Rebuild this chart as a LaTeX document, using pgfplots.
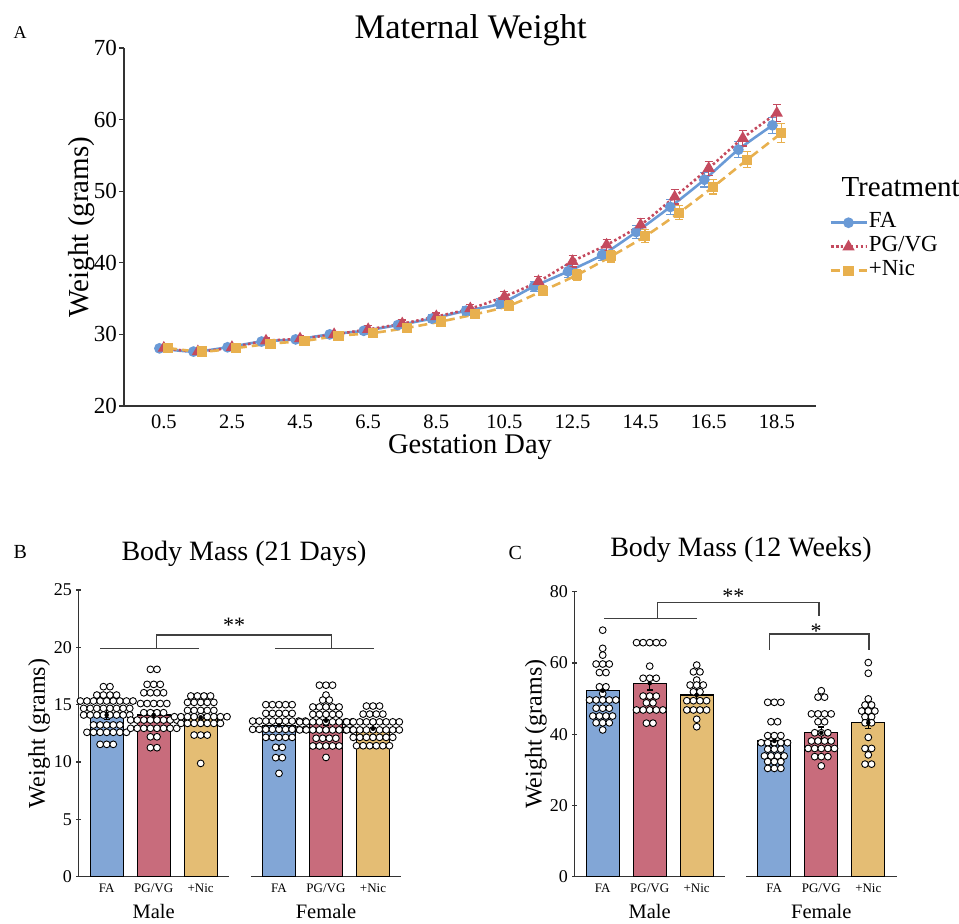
\documentclass[border=0pt]{standalone}
\usepackage{pgfplots}
\pgfplotsset{compat=1.18}
\usepackage{fontspec}
\setmainfont{Liberation Serif}
\newcommand\fs[1]{\fontsize{#1}{#1}\selectfont}
\definecolor{faBar}{HTML}{82A6D6}
\definecolor{pgBar}{HTML}{C86C7C}
\definecolor{nicBar}{HTML}{E4BD74}
\definecolor{faLine}{HTML}{6A9AD6}
\definecolor{pgLine}{HTML}{C44A5E}
\definecolor{nicLine}{HTML}{E8B04E}
\pgfplotsset{
  facet/.style={scale only axis, width=150.4pt, xmin=0.4, xmax=3.6, ymin=0, clip=false,
    xtick={1,2,3}, xticklabels={FA,PG/VG,+Nic}, xtick style={draw=none},
    xticklabel style={font=\fs{13}, yshift=-1.5pt},
    ytick style={line width=1.2pt, black!80}, tick align=outside, major tick length=5pt,
    yticklabel style={font=\fs{18}, inner sep=1pt, xshift=-3pt},
    /pgf/number format/assume math mode=true,
    xlabel style={font=\fs{20.5}, at={([yshift=-42pt]rel axis cs:0.5,0)}, anchor=base},
    ylabel style={font=\fs{24}, anchor=base}},
  facetlines/.style={axis line style={-, line width=1.6pt, black!80},
    x axis line style={-}, y axis line style={-}},
  bars/.style={ybar, bar width=0.7, draw=black, line width=1.2pt},
  dots/.style={only marks, mark=*, mark size=3.4pt, mark options={fill=white, draw=black, line width=0.9pt}},
  sem/.style={black, only marks, mark=none, error bars/.cd, y dir=both, y explicit,
    error bar style={line width=1.2pt}, error mark options={rotate=90, mark size=3pt, line width=1.2pt}},
}
\begin{document}
\begin{tikzpicture}
\path[use as bounding box] (0,0) rectangle (959pt,924pt);

% ---- A: maternal weight
\begin{axis}[at={(124pt,518pt)}, anchor=south west, scale only axis, width=692pt, height=358pt,
  xmin=-0.67, xmax=19.65, ymin=20, ymax=70, clip=false,
  axis lines=left, axis line style={-, line width=1.6pt, black!80},
  tick align=outside, major tick length=5pt, tick style={line width=1.2pt, black!80},
  xtick style={draw=none},
  xtick={0.5,2.5,4.5,6.5,8.5,10.5,12.5,14.5,16.5,18.5},
  xticklabels={0.5,2.5,4.5,6.5,8.5,10.5,12.5,14.5,16.5,18.5},
  ytick={20,30,40,50,60,70},
  xticklabel style={font=\fs{20.5}},
  yticklabel style={font=\fs{23}, inner sep=1pt, xshift=-1pt},
  /pgf/number format/assume math mode=true,
  xlabel={Gestation Day}, ylabel={Weight (grams)},
  xlabel style={font=\fs{28.5}, at={([yshift=-48pt]rel axis cs:0.5,0)}, anchor=base},
  ylabel style={font=\fs{29}, at={([xshift=-35.7pt]rel axis cs:0,0.5)}, anchor=base},
  legend style={at={(1.0188,0.546)}, anchor=north west, draw=none, fill=none, inner sep=0pt,
    font=\fs{23}, nodes={inner sep=1pt, text height=16pt, text depth=6pt}},
  legend cell align=left,
  legend image code/.code={\draw[mark repeat=2,mark phase=2,#1] plot coordinates {(0pt,0pt) (18pt,0pt) (36pt,0pt)};},
]
\addplot[faLine, line width=2.6pt, smooth, mark=*, mark size=4pt, mark options={solid, fill=faLine},
  error bars/.cd, y dir=both, y explicit, error bar style={line width=1.2pt, solid},
  error mark options={rotate=90, mark size=4pt, line width=1.2pt, solid}]
  table[x=x, y=y, y error=e] {
x y e
0.37 28.05 0.3
1.37 27.6 0.3
2.37 28.2 0.3
3.37 29.0 0.4
4.37 29.3 0.4
5.37 30.0 0.4
6.37 30.5 0.5
7.37 31.3 0.5
8.37 32.2 0.5
9.37 33.3 0.6
10.37 34.3 0.7
11.37 36.7 0.7
12.37 38.8 0.8
13.37 41.1 0.8
14.37 44.3 0.9
15.37 47.8 1.0
16.37 51.6 1.0
17.37 55.8 1.1
18.37 59.2 1.1
};
\addlegendentry{FA}
\addplot[pgLine, line width=2.6pt, smooth, dash pattern=on 2.5pt off 2.5pt, mark=triangle*, mark size=4.5pt, mark options={solid, fill=pgLine},
  error bars/.cd, y dir=both, y explicit, error bar style={line width=1.2pt, solid},
  error mark options={rotate=90, mark size=4pt, line width=1.2pt, solid}]
  table[x=x, y=y, y error=e] {
x y e
0.5 28.1 0.3
1.5 27.6 0.3
2.5 28.2 0.3
3.5 29.1 0.4
4.5 29.4 0.4
5.5 30.0 0.4
6.5 30.7 0.5
7.5 31.5 0.5
8.5 32.5 0.5
9.5 33.6 0.6
10.5 35.3 0.7
11.5 37.4 0.7
12.5 40.2 0.8
13.5 42.5 0.8
14.5 45.3 0.9
15.5 49.2 1.0
16.5 53.2 1.0
17.5 57.4 1.1
18.5 60.9 1.2
};
\addlegendentry{PG/VG}
\addplot[nicLine, line width=2.6pt, smooth, dash pattern=on 9pt off 5pt, mark=square*, mark size=3.8pt, mark options={solid, fill=nicLine},
  error bars/.cd, y dir=both, y explicit, error bar style={line width=1.2pt, solid},
  error mark options={rotate=90, mark size=4pt, line width=1.2pt, solid}]
  table[x=x, y=y, y error=e] {
x y e
0.63 28.1 0.3
1.63 27.6 0.3
2.63 28.1 0.3
3.63 28.7 0.4
4.63 29.1 0.4
5.63 29.8 0.4
6.63 30.2 0.5
7.63 30.9 0.5
8.63 31.8 0.5
9.63 32.8 0.6
10.63 34.0 0.7
11.63 36.1 0.7
12.63 38.3 0.8
13.63 40.9 0.8
14.63 43.7 0.9
15.63 47.0 1.0
16.63 50.6 1.0
17.63 54.4 1.1
18.63 58.1 1.3
};
\addlegendentry{+Nic}
\end{axis}
\node[font=\fs{18}, anchor=base west] at (10pt,885.7pt) {A};
\node[font=\fs{34.5}, anchor=base] at (470.7pt,885.7pt) {Maternal Weight};
\node[font=\fs{29}, anchor=base west] at (838pt,727.3pt) {Treatment};

% ---- B: body mass 21 days
\begin{axis}[facet, at={(78.5pt,47.3pt)}, anchor=south west, height=286.7pt, ymax=25,
  axis x line=bottom, axis y line=left, facetlines, ytick={0,5,10,15,20,25},
  xlabel={Male}, ylabel={Weight (grams)},
  ylabel style={at={([xshift=-33.5pt]rel axis cs:0,0.5)}}]
\addplot[bars, fill=faBar] coordinates {(1,14.1)};
\addplot[bars, fill=pgBar] coordinates {(2,14.1)};
\addplot[bars, fill=nicBar] coordinates {(3,13.9)};
\addplot[dots] coordinates {
(0.93,16.57)(1.07,16.57)
(0.79,15.84)(0.93,15.84)(1.07,15.84)(1.21,15.84)
(0.44,15.32)(0.58,15.32)(0.72,15.32)(0.86,15.32)(1.00,15.32)(1.14,15.32)(1.28,15.32)(1.42,15.32)(1.56,15.32)
(0.51,14.68)(0.65,14.68)(0.79,14.68)(0.93,14.68)(1.07,14.68)(1.21,14.68)(1.35,14.68)(1.49,14.68)
(0.51,14.10)(0.65,14.10)(0.79,14.10)(0.93,14.10)(1.07,14.10)(1.21,14.10)(1.35,14.10)(1.49,14.10)
(0.72,13.23)(0.86,13.23)(1.00,13.23)(1.14,13.23)(1.28,13.23)
(0.58,12.59)(0.72,12.59)(0.86,12.59)(1.00,12.59)(1.14,12.59)(1.28,12.59)(1.42,12.59)
(0.86,11.54)(1.00,11.54)(1.14,11.54)
(1.93,18.08)(2.07,18.08)
(1.86,16.77)(2.00,16.77)(2.14,16.77)
(1.79,16.04)(1.93,16.04)(2.07,16.04)(2.21,16.04)
(1.72,15.10)(1.86,15.10)(2.00,15.10)(2.14,15.10)(2.28,15.10)
(1.79,14.30)(1.93,14.30)(2.07,14.30)(2.21,14.30)
(1.51,13.66)(1.65,13.66)(1.79,13.66)(1.93,13.66)(2.07,13.66)(2.21,13.66)(2.35,13.66)(2.49,13.66)
(1.51,12.94)(1.65,12.94)(1.79,12.94)(1.93,12.94)(2.07,12.94)(2.21,12.94)(2.35,12.94)(2.49,12.94)
(1.93,12.20)(2.07,12.20)
(1.93,11.25)(2.07,11.25)
(2.79,15.76)(2.93,15.76)(3.07,15.76)(3.21,15.76)
(2.72,15.20)(2.86,15.20)(3.00,15.20)(3.14,15.20)(3.28,15.20)
(2.72,14.50)(2.86,14.50)(3.00,14.50)(3.14,14.50)(3.28,14.50)
(2.44,13.95)(2.58,13.95)(2.72,13.95)(2.86,13.95)(3.00,13.95)(3.14,13.95)(3.28,13.95)(3.42,13.95)(3.56,13.95)
(2.58,13.37)(2.72,13.37)(2.86,13.37)(3.00,13.37)(3.14,13.37)(3.28,13.37)(3.42,13.37)
(2.86,12.35)(3.00,12.35)(3.14,12.35)
(3.00,9.88)
};
\addplot[sem] coordinates {(1,14.1) +- (0,0.4) (2,14.1) +- (0,0.4) (3,13.9) +- (0,0.4)};
\end{axis}
\begin{axis}[facet, at={(250.8pt,47.3pt)}, anchor=south west, height=286.7pt, ymax=25,
  axis x line=bottom, axis y line=none, facetlines, xlabel={Female}]
\addplot[bars, fill=faBar] coordinates {(1,13.2)};
\addplot[bars, fill=pgBar] coordinates {(2,13.6)};
\addplot[bars, fill=nicBar] coordinates {(3,12.9)};
\addplot[dots] coordinates {
(0.72,15.00)(0.86,15.00)(1.00,15.00)(1.14,15.00)(1.28,15.00)
(0.72,14.24)(0.86,14.24)(1.00,14.24)(1.14,14.24)(1.28,14.24)
(0.44,13.57)(0.58,13.57)(0.72,13.57)(0.86,13.57)(1.00,13.57)(1.14,13.57)(1.28,13.57)(1.42,13.57)(1.56,13.57)
(0.44,12.85)(0.58,12.85)(0.72,12.85)(0.86,12.85)(1.00,12.85)(1.14,12.85)(1.28,12.85)(1.42,12.85)(1.56,12.85)
(0.72,12.15)(0.86,12.15)(1.00,12.15)(1.14,12.15)(1.28,12.15)
(0.93,11.28)(1.07,11.28)
(0.93,10.38)(1.07,10.38)
(1.00,9.01)
(1.86,16.70)(2.00,16.70)(2.14,16.70)
(2.00,15.84)
(1.93,15.40)(2.07,15.40)
(1.72,14.80)(1.86,14.80)(2.00,14.80)(2.14,14.80)(2.28,14.80)
(1.72,14.16)(1.86,14.16)(2.00,14.16)(2.14,14.16)(2.28,14.16)
(1.44,13.50)(1.58,13.50)(1.72,13.50)(1.86,13.50)(2.00,13.50)(2.14,13.50)(2.28,13.50)(2.42,13.50)(2.56,13.50)
(1.44,12.80)(1.58,12.80)(1.72,12.80)(1.86,12.80)(2.00,12.80)(2.14,12.80)(2.28,12.80)(2.42,12.80)(2.56,12.80)
(1.79,12.07)(1.93,12.07)(2.07,12.07)(2.21,12.07)
(1.72,11.40)(1.86,11.40)(2.00,11.40)(2.14,11.40)(2.28,11.40)
(2.00,10.40)
(2.86,14.88)(3.00,14.88)(3.14,14.88)
(2.79,14.18)(2.93,14.18)(3.07,14.18)(3.21,14.18)
(2.44,13.50)(2.58,13.50)(2.72,13.50)(2.86,13.50)(3.00,13.50)(3.14,13.50)(3.28,13.50)(3.42,13.50)(3.56,13.50)
(2.44,12.80)(2.58,12.80)(2.72,12.80)(2.86,12.80)(3.00,12.80)(3.14,12.80)(3.28,12.80)(3.42,12.80)(3.56,12.80)
(2.58,12.15)(2.72,12.15)(2.86,12.15)(3.00,12.15)(3.14,12.15)(3.28,12.15)(3.42,12.15)
(2.65,11.42)(2.79,11.42)(2.93,11.42)(3.07,11.42)(3.21,11.42)(3.35,11.42)
};
\addplot[sem] coordinates {(1,13.2) +- (0,0.35) (2,13.6) +- (0,0.4) (3,12.9) +- (0,0.35)};
\end{axis}
\node[font=\fs{20}, anchor=base west] at (10pt,365.7pt) {B};
\node[font=\fs{28}, anchor=base] at (244pt,363.3pt) {Body Mass (21 Days)};
\draw[line width=1.4pt, black!75] (100pt,275.7pt) -- (199pt,275.7pt);
\draw[line width=1.4pt, black!75] (275pt,275.7pt) -- (374pt,275.7pt);
\draw[line width=1.4pt, black!75] (156.7pt,275.7pt) -- (156.7pt,289pt) -- (331.7pt,289pt) -- (331.7pt,275.7pt);
\node[font=\fs{22}, anchor=base] at (234pt,291.3pt) {**};

% ---- C: body mass 12 weeks
\begin{axis}[facet, at={(574.5pt,47.3pt)}, anchor=south west, height=285pt, ymax=80,
  axis x line=bottom, axis y line=left, facetlines, ytick={0,20,40,60,80},
  xlabel={Male}, ylabel={Weight (grams)},
  ylabel style={at={([xshift=-32.8pt]rel axis cs:0,0.5)}}]
\addplot[bars, fill=faBar] coordinates {(1,52.2)};
\addplot[bars, fill=pgBar] coordinates {(2,54.3)};
\addplot[bars, fill=nicBar] coordinates {(3,51.0)};
\addplot[dots] coordinates {
(1.00,69.2)(1.00,64.1)(1.00,62.2)
(0.86,59.7)(1.00,59.7)(1.14,59.7)
(0.93,57.3)(1.07,57.3)
(0.93,53.3)(1.07,53.3)
(1.00,51.4)
(0.72,49.6)(0.86,49.6)(1.00,49.6)(1.14,49.6)(1.28,49.6)
(0.86,47.3)(1.00,47.3)(1.14,47.3)
(0.79,45.1)(0.93,45.1)(1.07,45.1)(1.21,45.1)
(0.86,43.2)(1.00,43.2)(1.14,43.2)
(1.00,41.2)
(1.72,65.7)(1.86,65.7)(2.00,65.7)(2.14,65.7)(2.28,65.7)
(2.00,59.1)
(1.86,55.7)(2.00,55.7)(2.14,55.7)
(1.86,50.7)(2.00,50.7)(2.14,50.7)
(1.93,48.8)(2.07,48.8)
(1.72,46.8)(1.86,46.8)(2.00,46.8)(2.14,46.8)(2.28,46.8)
(1.93,43.1)(2.07,43.1)
(3.00,59.4)
(2.93,57.5)(3.07,57.5)
(3.00,55.2)
(2.86,53.8)(3.00,53.8)(3.14,53.8)
(2.93,51.9)(3.07,51.9)
(2.79,49.4)(2.93,49.4)(3.07,49.4)(3.21,49.4)
(2.79,46.8)(2.93,46.8)(3.07,46.8)(3.21,46.8)
(3.00,44.2)(3.00,42.1)
};
\addplot[sem] coordinates {(1,52.2) +- (0,1.4) (2,54.3) +- (0,1.9) (3,51.0) +- (0,1.5)};
\end{axis}
\begin{axis}[facet, at={(746.1pt,47.3pt)}, anchor=south west, height=285pt, ymax=80,
  axis x line=bottom, axis y line=none, facetlines, xlabel={Female}]
\addplot[bars, fill=faBar] coordinates {(1,38.1)};
\addplot[bars, fill=pgBar] coordinates {(2,40.4)};
\addplot[bars, fill=nicBar] coordinates {(3,43.2)};
\addplot[dots] coordinates {
(0.86,48.95)(1.00,48.95)(1.14,48.95)
(0.93,43.5)(1.07,43.5)
(0.86,39.6)(1.00,39.6)(1.14,39.6)
(0.72,37.6)(0.86,37.6)(1.00,37.6)(1.14,37.6)(1.28,37.6)
(0.86,35.8)(1.00,35.8)(1.14,35.8)
(0.79,33.9)(0.93,33.9)(1.07,33.9)(1.21,33.9)
(0.86,32.3)(1.00,32.3)(1.14,32.3)
(0.86,30.4)(1.00,30.4)(1.14,30.4)
(2.00,52.2)
(1.93,50.4)(2.07,50.4)
(1.79,45.7)(1.93,45.7)(2.07,45.7)(2.21,45.7)
(1.93,43.5)(2.07,43.5)
(1.86,40.4)(2.00,40.4)(2.14,40.4)
(1.79,38.1)(1.93,38.1)(2.07,38.1)(2.21,38.1)
(1.72,36.0)(1.86,36.0)(2.00,36.0)(2.14,36.0)(2.28,36.0)
(1.86,33.7)(2.00,33.7)(2.14,33.7)
(2.00,31.1)
(3.00,60.1)(3.00,57.1)(3.00,49.9)
(2.93,48.2)(3.07,48.2)
(2.86,46.5)(3.00,46.5)(3.14,46.5)
(2.93,44.9)(3.07,44.9)
(2.93,43.2)(3.07,43.2)
(3.00,39.1)
(2.93,36.0)(3.07,36.0)
(3.00,34.2)
(2.93,31.6)(3.07,31.6)
};
\addplot[sem] coordinates {(1,38.1) +- (0,1.3) (2,40.4) +- (0,1.6) (3,43.2) +- (0,1.7)};
\end{axis}
\node[font=\fs{20}, anchor=base west] at (505pt,364.7pt) {C};
\node[font=\fs{28}, anchor=base] at (741pt,367pt) {Body Mass (12 Weeks)};
\draw[line width=1.4pt, black!75] (604pt,305.7pt) -- (696.7pt,305.7pt);
\draw[line width=1.4pt, black!75] (657.3pt,305.7pt) -- (657.3pt,321.3pt) -- (819pt,321.3pt) -- (819pt,308pt);
\node[font=\fs{22}, anchor=base] at (733.3pt,320.7pt) {**};
\draw[line width=1.4pt, black!75] (769.3pt,274pt) -- (769.3pt,290pt) -- (869pt,290pt) -- (869pt,274pt);
\node[font=\fs{22}, anchor=base] at (816pt,285.7pt) {*};
\end{tikzpicture}
\end{document}
